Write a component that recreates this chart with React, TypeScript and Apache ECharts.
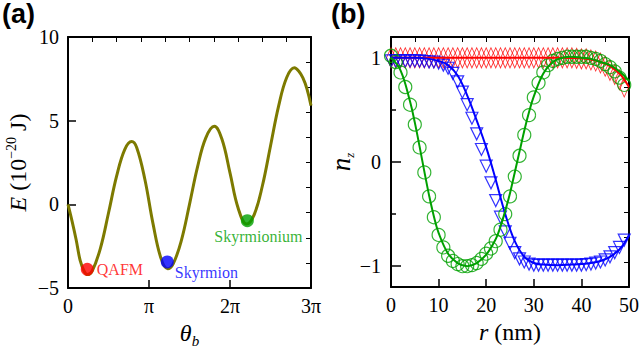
import React, { useEffect, useRef } from 'react';
import * as echarts from 'echarts';

// ---------- Panel (a): energy landscape ----------
const thetaPi = [0, 0.05, 0.1, 0.15, 0.2, 0.24, 0.3, 0.4, 0.5, 0.6, 0.7, 0.786, 0.85, 0.95, 1.05, 1.15, 1.23, 1.3, 1.4, 1.5, 1.6, 1.7, 1.806, 1.9, 2.0, 2.1, 2.206, 2.3, 2.4, 2.5, 2.6, 2.7, 2.794, 2.85, 2.9, 2.95, 3.0];
const energy = [0, -1.0, -2.1, -3.35, -4.0, -4.2, -3.97, -2.63, -0.52, 1.68, 3.27, 3.75, 3.37, 1.47, -1.17, -3.26, -3.85, -3.54, -2.15, 0.0, 2.25, 3.96, 4.66, 3.9, 1.88, -0.22, -1.18, -0.6, 1.11, 3.49, 5.87, 7.58, 8.16, 7.95, 7.55, 6.9, 5.9];
const stateNames = ['QAFM', 'Skyrmion', 'Skyrmionium'];
const stateTheta = [0.238, 1.226, 2.214];
const stateEnergy = [-3.88, -3.44, -0.98];
const stateColors = ['#ff0000', '#0000ff', '#00a000'];
const thetaTickLabels = ['0', 'π', '2π', '3π'];

// ---------- Panel (b): n_z profiles ----------
const rMarkers = [0, 1, 2, 3, 4, 5, 6, 7, 8, 9, 10, 11, 12, 13, 14, 15, 16, 17, 18, 19, 20, 21, 22, 23, 24, 25, 26, 27, 28, 29, 30, 31, 32, 33, 34, 35, 36, 37, 38, 39, 40, 41, 42, 43, 44, 45, 46, 47, 48, 49];
const qafmMarkers = [1, 1, 1, 1, 1, 1, 1, 1, 1, 1, 1, 1, 1, 1, 1, 1, 1, 1, 1, 1, 1, 1, 1, 1, 1, 1, 1, 1, 1, 1, 1, 1, 1, 1, 1, 1, 1, 1, 1, 0.995, 0.99, 0.99, 0.98, 0.97, 0.95, 0.92, 0.88, 0.84, 0.79, 0.72];
const skMarkers = [0.97, 0.97, 0.97, 0.97, 0.97, 0.97, 0.97, 0.965, 0.96, 0.96, 0.95, 0.93, 0.9, 0.85, 0.77, 0.67, 0.55, 0.42, 0.27, 0.12, -0.04, -0.2, -0.37, -0.53, -0.67, -0.78, -0.87, -0.93, -0.96, -0.98, -0.99, -0.99, -0.99, -0.99, -0.99, -0.99, -0.99, -0.99, -0.99, -0.99, -0.99, -0.985, -0.98, -0.97, -0.96, -0.94, -0.91, -0.87, -0.82, -0.75];
const skmMarkers = [1.02, 0.96, 0.86, 0.72, 0.55, 0.36, 0.14, -0.1, -0.33, -0.53, -0.7, -0.82, -0.9, -0.95, -0.98, -1.0, -1.0, -0.99, -0.97, -0.93, -0.88, -0.83, -0.76, -0.65, -0.5, -0.33, -0.14, 0.06, 0.26, 0.45, 0.62, 0.76, 0.86, 0.93, 0.97, 0.99, 1.0, 1.01, 1.01, 1.01, 1.01, 1.01, 1.0, 0.99, 0.97, 0.94, 0.91, 0.87, 0.81, 0.74];

const qafmLineR = [0, 10, 20, 30, 36, 40, 42, 44, 46, 48, 49, 50];
const qafmLine = [1, 1, 1, 1, 1, 0.995, 0.985, 0.96, 0.92, 0.85, 0.79, 0.72];
const skLineR = [0, 5, 8, 10, 12, 14, 16, 18, 20, 22, 24, 26, 28, 30, 32, 35, 38, 40, 42, 44, 46, 48, 49, 50];
const skLine = [1, 1, 0.99, 0.97, 0.93, 0.83, 0.64, 0.4, 0.14, -0.17, -0.5, -0.76, -0.91, -0.97, -0.985, -0.99, -0.985, -0.98, -0.97, -0.95, -0.91, -0.84, -0.78, -0.7];
const skmLineR = [0, 2, 4, 5, 6, 7, 8, 9, 10, 12, 14, 16, 18, 20, 22, 23, 24, 25, 26, 27, 28, 29, 30, 32, 34, 36, 38, 40, 42, 44, 46, 48, 50];
const skmLine = [1, 0.88, 0.58, 0.38, 0.15, -0.09, -0.32, -0.52, -0.68, -0.88, -0.97, -1.0, -0.97, -0.89, -0.74, -0.62, -0.47, -0.3, -0.1, 0.1, 0.3, 0.48, 0.63, 0.85, 0.96, 1.0, 1.01, 1.0, 0.99, 0.96, 0.93, 0.87, 0.78];

const yTicksA_right = [-3.5, -2, -0.5, 1, 2.5, 4, 5.5, 7, 8.5];
const xTicksA_top = [0.3, 0.6, 0.9, 1.2, 1.5, 1.8, 2.1, 2.4, 2.7];
const yTicksB_major = [-1, 0, 1];
const yTicksB_minor = [-0.5, 0.5];
const yTicksB_right = [-0.96, -0.72, -0.48, -0.24, 0, 0.24, 0.48, 0.72, 0.96];
const xTicksB_top = [5, 10, 15, 20, 25, 30, 35, 40, 45];

const SERIF = 'Liberation Serif, Times New Roman, serif';
const SANS = 'Liberation Sans, Arial, sans-serif';
const FS = 20;

const zip = (xs: number[], ys: number[]) => xs.map((x, i) => [x, ys[i]]);
const minus = (v: number) => (v < 0 ? '−' + Math.abs(v) : String(v));

const frameLine = { show: true, onZero: false, lineStyle: { color: '#000', width: 2 } };
const tickLbl = { fontFamily: SERIF, fontSize: FS, color: '#000' };

function buildOption(): any {
  const xAxis: any[] = [
    {
      gridIndex: 0, type: 'value', min: 0, max: 3, interval: 1, position: 'bottom',
      axisLine: frameLine,
      axisTick: { inside: true, length: 8, lineStyle: { color: '#000', width: 1.5 } },
      axisLabel: { ...tickLbl, margin: 8, formatter: (v: number) => thetaTickLabels[Math.round(v)] ?? '' },
      splitLine: { show: false },
      name: '{t|θ}{b|b}', nameLocation: 'middle', nameGap: 30,
      nameTextStyle: {
        fontFamily: SERIF,
        rich: {
          t: { fontFamily: SERIF, fontStyle: 'italic', fontSize: 24, lineHeight: 30, color: '#000' },
          b: { fontFamily: SERIF, fontStyle: 'italic', fontSize: 15, lineHeight: 15, verticalAlign: 'bottom', color: '#000' },
        },
      },
    },
    {
      gridIndex: 0, type: 'value', min: 0, max: 3, position: 'top',
      axisLine: frameLine,
      axisTick: { inside: true, length: 5, customValues: xTicksA_top, lineStyle: { color: '#000', width: 1 } },
      axisLabel: { show: false }, splitLine: { show: false },
    },
    {
      gridIndex: 1, type: 'value', min: 0, max: 50, interval: 10, position: 'bottom',
      axisLine: frameLine,
      axisTick: { inside: true, length: 8, lineStyle: { color: '#000', width: 1.5 } },
      axisLabel: { ...tickLbl, margin: 8 },
      splitLine: { show: false },
      name: '{r|r}{n| (nm)}', nameLocation: 'middle', nameGap: 30,
      nameTextStyle: {
        fontFamily: SERIF,
        rich: {
          r: { fontFamily: SERIF, fontStyle: 'italic', fontSize: 24, color: '#000' },
          n: { fontFamily: SERIF, fontSize: 24, color: '#000' },
        },
      },
    },
    {
      gridIndex: 1, type: 'value', min: 0, max: 50, position: 'top',
      axisLine: frameLine,
      axisTick: { inside: true, length: 5, customValues: xTicksB_top, lineStyle: { color: '#000', width: 1 } },
      axisLabel: { show: false }, splitLine: { show: false },
    },
  ];

  const yAxis: any[] = [
    {
      gridIndex: 0, type: 'value', min: -5, max: 10, interval: 5, position: 'left',
      axisLine: frameLine,
      axisTick: { inside: true, length: 8, lineStyle: { color: '#000', width: 1.5 } },
      axisLabel: { ...tickLbl, margin: 9, formatter: minus },
      splitLine: { show: false },
      name: '{i|E}{n| (10}{s|−20}{n| J)}', nameLocation: 'middle', nameGap: 36,
      nameTextStyle: {
        fontFamily: SERIF,
        rich: {
          i: { fontFamily: SERIF, fontStyle: 'italic', fontSize: 24, lineHeight: 28, color: '#000' },
          n: { fontFamily: SERIF, fontSize: 24, lineHeight: 28, color: '#000' },
          s: { fontFamily: SERIF, fontSize: 14, lineHeight: 14, verticalAlign: 'top', color: '#000' },
        },
      },
    },
    {
      gridIndex: 0, type: 'value', min: -5, max: 10, position: 'right',
      axisLine: frameLine,
      axisTick: { inside: true, length: 5, customValues: yTicksA_right, lineStyle: { color: '#000', width: 1 } },
      axisLabel: { show: false }, splitLine: { show: false },
    },
    {
      gridIndex: 1, type: 'value', min: -1.2, max: 1.2, position: 'left',
      axisLine: frameLine,
      axisTick: { inside: true, length: 10, customValues: yTicksB_major, lineStyle: { color: '#000', width: 1.5 } },
      axisLabel: { ...tickLbl, margin: 10, customValues: yTicksB_major, formatter: minus },
      splitLine: { show: false },
      name: '{n|n}{z|z}', nameLocation: 'middle', nameGap: 30,
      nameTextStyle: {
        fontFamily: SERIF,
        rich: {
          n: { fontFamily: SERIF, fontStyle: 'italic', fontSize: 27, lineHeight: 30, color: '#000' },
          z: { fontFamily: SERIF, fontStyle: 'italic', fontSize: 13, lineHeight: 13, verticalAlign: 'bottom', color: '#000' },
        },
      },
    },
    {
      gridIndex: 1, type: 'value', min: -1.2, max: 1.2, position: 'right',
      axisLine: frameLine,
      axisTick: { inside: true, length: 5, customValues: yTicksB_right, lineStyle: { color: '#000', width: 1 } },
      axisLabel: { show: false }, splitLine: { show: false },
    },
    {
      gridIndex: 1, type: 'value', min: -1.2, max: 1.2, position: 'left',
      axisLine: { show: false },
      axisTick: { inside: true, length: 5, customValues: yTicksB_minor, lineStyle: { color: '#000', width: 1.5 } },
      axisLabel: { show: false }, splitLine: { show: false },
    },
  ];

  const hollow = 'rgba(0,0,0,0)';
  const series: any[] = [
    {
      type: 'line', xAxisIndex: 0, yAxisIndex: 0, data: zip(thetaPi, energy),
      smooth: 0.4, showSymbol: false, lineStyle: { color: '#7d7a00', width: 3 }, z: 2,
    },
    {
      type: 'scatter', xAxisIndex: 0, yAxisIndex: 0, symbolSize: 13, z: 3,
      data: stateNames.map((n, i) => ({
        name: n, value: [stateTheta[i], stateEnergy[i]],
        itemStyle: { color: stateColors[i] },
        label: {
          show: true, formatter: n, color: stateColors[i], fontFamily: SERIF, fontSize: 16,
          position: i === 2 ? 'bottom' : 'right',
          distance: i === 2 ? 1 : 3,
          offset: i === 0 ? [0, 0] : i === 1 ? [-2, 11] : [11, 0],
        },
      })),
    },
    // panel (b) markers
    {
      type: 'scatter', xAxisIndex: 2, yAxisIndex: 2, data: zip(rMarkers, qafmMarkers),
      symbol: 'diamond', symbolSize: [9, 20], z: 2,
      itemStyle: { color: hollow, borderColor: '#ff0000', borderWidth: 1 },
    },
    {
      type: 'scatter', xAxisIndex: 2, yAxisIndex: 2, data: zip(rMarkers, skMarkers),
      symbol: 'triangle', symbolRotate: 180, symbolSize: 12, z: 2,
      itemStyle: { color: hollow, borderColor: '#0000ff', borderWidth: 1.2 },
    },
    {
      type: 'scatter', xAxisIndex: 2, yAxisIndex: 2, data: zip(rMarkers, skmMarkers),
      symbol: 'circle', symbolSize: 13, z: 2,
      itemStyle: { color: hollow, borderColor: '#00a000', borderWidth: 1.2 },
    },
    // panel (b) lines
    {
      type: 'line', xAxisIndex: 2, yAxisIndex: 2, data: zip(qafmLineR, qafmLine),
      smooth: 0.4, showSymbol: false, lineStyle: { color: '#ff0000', width: 2 }, z: 3,
    },
    {
      type: 'line', xAxisIndex: 2, yAxisIndex: 2, data: zip(skLineR, skLine),
      smooth: 0.4, showSymbol: false, lineStyle: { color: '#0000ff', width: 2 }, z: 3,
    },
    {
      type: 'line', xAxisIndex: 2, yAxisIndex: 2, data: zip(skmLineR, skmLine),
      smooth: 0.4, showSymbol: false, lineStyle: { color: '#00a000', width: 2 }, z: 3,
    },
  ];

  return {
    animation: false,
    backgroundColor: '#ffffff',
    textStyle: { fontFamily: SERIF },
    grid: [
      { left: 68, top: 37, width: 243, height: 251 },
      { left: 391, top: 37, width: 243, height: 250 },
    ],
    xAxis, yAxis, series,
    graphic: [
      { type: 'text', left: 2, top: 0, style: { text: '(a)', font: `bold 27px ${SANS}`, fill: '#000' } },
      { type: 'text', left: 331, top: 0, style: { text: '(b)', font: `bold 27px ${SANS}`, fill: '#000' } },
    ],
  };
}

export default function App() {
  const ref = useRef<HTMLDivElement>(null);
  useEffect(() => {
    if (!ref.current) return;
    const chart = echarts.init(ref.current, null, { renderer: 'svg' });
    chart.setOption(buildOption());
    return () => chart.dispose();
  }, []);
  return (
    <div
      ref={ref}
      style={{ position: 'absolute', left: 0, top: 0, width: 642, height: 354, background: '#fff' }}
    />
  );
}
